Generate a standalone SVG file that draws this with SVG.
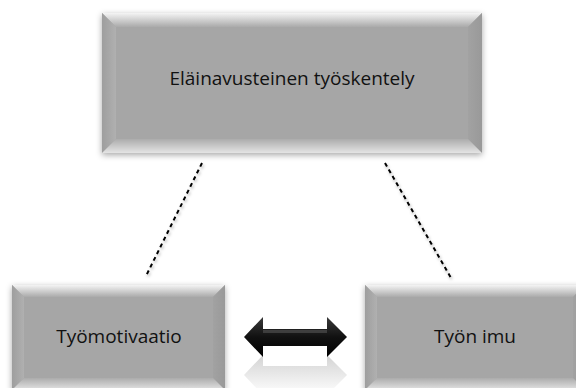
<svg xmlns="http://www.w3.org/2000/svg" width="576" height="388" viewBox="0 0 576 388">
<defs>
<filter id="sh" x="-10%" y="-10%" width="120%" height="130%">
<feDropShadow dx="0" dy="2" stdDeviation="3" flood-color="#000" flood-opacity="0.35"/>
</filter>
<filter id="lsh" x="-20%" y="-20%" width="140%" height="140%">
<feDropShadow dx="1" dy="2" stdDeviation="1.5" flood-color="#000" flood-opacity="0.3"/>
</filter>
<linearGradient id="gTop" x1="0" y1="0" x2="0" y2="1">
<stop offset="0" stop-color="#f4f4f4"/><stop offset="1" stop-color="#aaaaaa"/>
</linearGradient>
<linearGradient id="gLeft" x1="0" y1="0" x2="1" y2="0">
<stop offset="0" stop-color="#9e9e9e"/><stop offset="1" stop-color="#b0b0b0"/>
</linearGradient>
<linearGradient id="gRight" x1="0" y1="0" x2="1" y2="0">
<stop offset="0" stop-color="#a2a2a2"/><stop offset="1" stop-color="#999999"/>
</linearGradient>
<linearGradient id="gBot" x1="0" y1="0" x2="0" y2="1">
<stop offset="0" stop-color="#acacac"/><stop offset="1" stop-color="#e4e4e4"/>
</linearGradient>
<linearGradient id="gArrow" x1="0" y1="0" x2="0" y2="1">
<stop offset="0" stop-color="#3a3a3a"/><stop offset="0.5" stop-color="#111"/><stop offset="1" stop-color="#000"/>
</linearGradient>
<linearGradient id="gRefl" x1="0" y1="0" x2="0" y2="1">
<stop offset="0" stop-color="#c8c8c8"/><stop offset="1" stop-color="#ffffff"/>
</linearGradient>
</defs>
<style>
.face{fill:#a6a6a6}
.lbl{font-family:"Open Sans","Liberation Sans",sans-serif;fill:#111;text-anchor:middle;font-size:19px}
.dash{stroke:#000;stroke-width:2;stroke-dasharray:4 3.5;fill:none}
</style>

<g id="connectors">
<g filter="url(#lsh)">
<line class="dash" x1="202" y1="163" x2="146" y2="276"/>
<line class="dash" x1="385" y1="163" x2="451" y2="278"/>
</g>
<g id="double-arrow">
<path d="M244,375 L263,355 L263,362 L327,362 L327,355 L347,375 L327,395 L327,388 L263,388 L263,395 Z" fill="url(#gRefl)" opacity="0.8"/>
<rect x="263" y="356" width="64" height="10" fill="#fff"/>
<path d="M244,337 L263,317 L263,329 L327,329 L327,317 L347,337 L327,357 L327,346 L263,346 L263,357 Z" fill="url(#gArrow)"/>
<path d="M263,330 L327,330 L327,333 L263,333 Z" fill="#555" opacity="0.6"/>
</g>
</g>

<g id="node-top">
<g filter="url(#sh)">
<rect class="face" x="102" y="13" width="380" height="140"/>
<polygon points="102,13 482,13 468,27 116,27" fill="url(#gTop)"/>
<polygon points="102,13 116,27 116,139 102,153" fill="url(#gLeft)"/>
<polygon points="482,13 468,27 468,139 482,153" fill="url(#gRight)"/>
<polygon points="102,153 116,139 468,139 482,153" fill="url(#gBot)"/>
</g>
<text class="lbl" x="292" y="85">Eläinavusteinen työskentely</text>
</g>

<g id="node-left">
<g filter="url(#sh)">
<rect class="face" x="12" y="285" width="213" height="105"/>
<polygon points="12,285 225,285 213,297 24,297" fill="url(#gTop)"/>
<polygon points="12,285 24,297 24,378 12,390" fill="url(#gLeft)"/>
<polygon points="225,285 213,297 213,378 225,390" fill="url(#gRight)"/>
<polygon points="12,390 24,378 213,378 225,390" fill="url(#gBot)"/>
</g>
<text class="lbl" x="119" y="343">Työmotivaatio</text>
</g>

<g id="node-right">
<g filter="url(#sh)">
<rect class="face" x="365" y="285" width="220" height="105"/>
<polygon points="365,285 585,285 573,297 377,297" fill="url(#gTop)"/>
<polygon points="365,285 377,297 377,378 365,390" fill="url(#gLeft)"/>
<polygon points="585,285 573,297 573,378 585,390" fill="url(#gRight)"/>
<polygon points="365,390 377,378 573,378 585,390" fill="url(#gBot)"/>
</g>
<text class="lbl" x="475" y="343">Työn imu</text>
</g>
</svg>
